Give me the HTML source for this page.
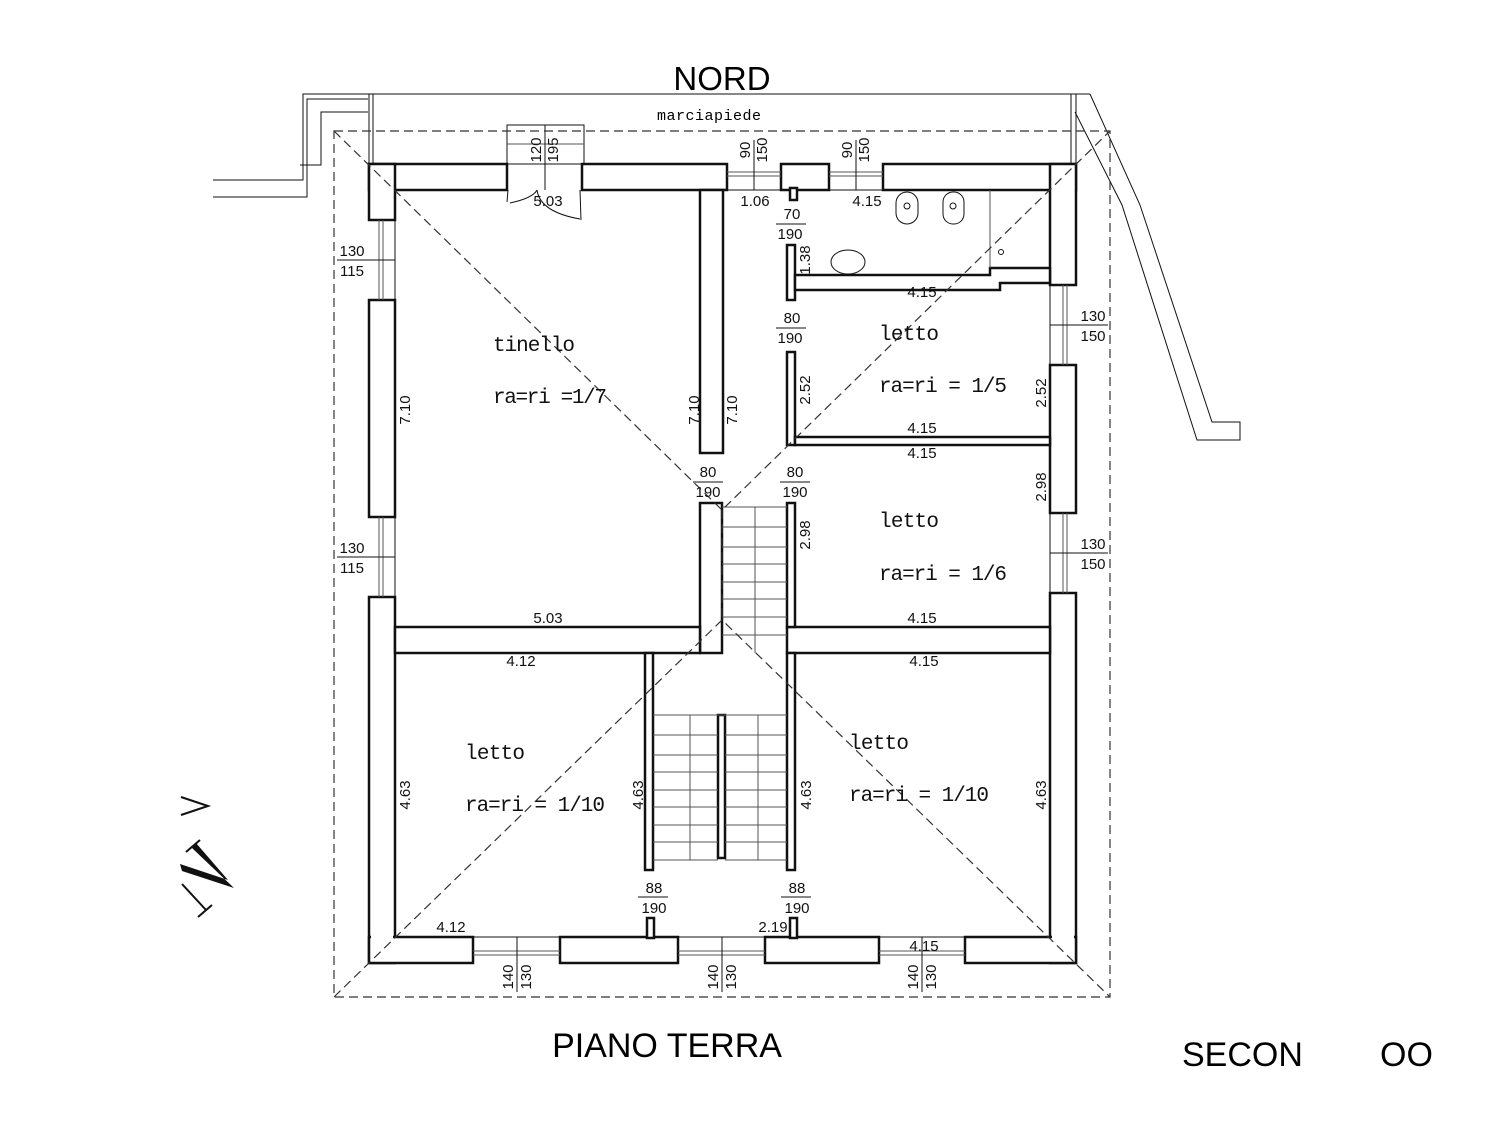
<!DOCTYPE html>
<html><head><meta charset="utf-8"><style>
html,body{margin:0;padding:0;background:#fff}
svg{display:block}
.d{font-family:"Liberation Sans",sans-serif;font-size:15px;fill:#111}
.r{font-family:"Liberation Mono",monospace;font-size:21px;fill:#111}
.w{fill:#fff;stroke:#111;stroke-width:2.5}
.t{stroke:#111;stroke-width:1;fill:none}
.g{stroke:#555;stroke-width:1;fill:none}
.dash{stroke:#333;stroke-width:1.2;fill:none;stroke-dasharray:9 5}
</style></head><body>
<svg width="1500" height="1125" viewBox="0 0 1500 1125" xmlns="http://www.w3.org/2000/svg">
<line x1="369" y1="94" x2="1090" y2="94" class="t"/>
<polyline points="213,180 303,180 303,94 369,94" class="t"/>
<polyline points="213,197 307,197 307,99 368,99" class="t"/>
<polyline points="300,165 321,165 321,112 368,112" class="t"/>
<line x1="369" y1="94" x2="369" y2="164" class="t"/>
<line x1="373" y1="94" x2="373" y2="164" class="t"/>
<line x1="1071" y1="94" x2="1071" y2="164" class="t"/>
<line x1="1076" y1="94" x2="1076" y2="164" class="t"/>
<polyline points="1090,94 1140,205 1212,422 1240,422 1240,440 1197,440 1122,205 1075,112" class="t"/>
<rect x="507" y="125" width="77" height="39" class="t"/>
<line x1="507" y1="144" x2="584" y2="144" class="g"/>
<line x1="545" y1="125" x2="545" y2="190" class="t"/>
<rect x="369" y="164" width="138" height="26" class="w"/>
<rect x="582" y="164" width="145" height="26" class="w"/>
<rect x="781" y="164" width="48" height="26" class="w"/>
<rect x="790" y="188" width="7" height="12" class="w"/>
<rect x="883" y="164" width="193" height="26" class="w"/>
<rect x="369" y="164" width="26" height="56" class="w"/>
<rect x="369" y="300" width="26" height="217" class="w"/>
<rect x="369" y="597" width="26" height="366" class="w"/>
<rect x="1050" y="164" width="26" height="121" class="w"/>
<rect x="1050" y="365" width="26" height="148" class="w"/>
<rect x="1050" y="593" width="26" height="370" class="w"/>
<rect x="369" y="937" width="104" height="26" class="w"/>
<rect x="560" y="937" width="118" height="26" class="w"/>
<rect x="765" y="937" width="114" height="26" class="w"/>
<rect x="965" y="937" width="111" height="26" class="w"/>
<rect x="371" y="166" width="22" height="30" fill="#fff"/>
<rect x="1052" y="166" width="22" height="30" fill="#fff"/>
<rect x="371" y="933" width="22" height="28" fill="#fff"/>
<rect x="1052" y="933" width="22" height="28" fill="#fff"/>
<g class="g">
<line x1="727" y1="172" x2="781" y2="172"/><line x1="727" y1="176" x2="781" y2="176"/>
<line x1="829" y1="172" x2="883" y2="172"/><line x1="829" y1="176" x2="883" y2="176"/>
<line x1="379" y1="220" x2="379" y2="300"/><line x1="383" y1="220" x2="383" y2="300"/>
<line x1="379" y1="517" x2="379" y2="597"/><line x1="383" y1="517" x2="383" y2="597"/>
<line x1="1063" y1="285" x2="1063" y2="365"/><line x1="1067" y1="285" x2="1067" y2="365"/>
<line x1="1063" y1="513" x2="1063" y2="593"/><line x1="1067" y1="513" x2="1067" y2="593"/>
<line x1="473" y1="951" x2="560" y2="951"/><line x1="473" y1="955" x2="560" y2="955"/>
<line x1="678" y1="951" x2="765" y2="951"/><line x1="678" y1="955" x2="765" y2="955"/>
<line x1="879" y1="951" x2="965" y2="951"/><line x1="879" y1="955" x2="965" y2="955"/>
</g>
<g class="t">
<line x1="727" y1="190" x2="781" y2="190"/><line x1="829" y1="190" x2="883" y2="190"/>
<line x1="395" y1="220" x2="395" y2="300"/><line x1="395" y1="517" x2="395" y2="597"/>
<line x1="1050" y1="285" x2="1050" y2="365"/><line x1="1050" y1="513" x2="1050" y2="593"/>
<line x1="473" y1="937" x2="560" y2="937"/><line x1="678" y1="937" x2="765" y2="937"/><line x1="879" y1="937" x2="965" y2="937"/>
<line x1="754" y1="140" x2="754" y2="190"/><line x1="856" y1="140" x2="856" y2="190"/>
<line x1="337" y1="260" x2="395" y2="260"/><line x1="337" y1="557" x2="395" y2="557"/>
<line x1="1050" y1="325" x2="1108" y2="325"/><line x1="1050" y1="553" x2="1108" y2="553"/>
<line x1="517" y1="937" x2="517" y2="992"/><line x1="722" y1="937" x2="722" y2="992"/><line x1="922" y1="937" x2="922" y2="992"/>
</g>
<path d="M508,190 L507,202 M537,190 Q533,198 510,203" class="t"/>
<path d="M580,190 L581,220 M537,190 Q540,212 580,219" class="t"/>
<rect x="700" y="190" width="23" height="263" class="w"/>
<rect x="700" y="503" width="22" height="150" class="w"/>
<rect x="395" y="627" width="305" height="26" class="w"/>
<rect x="787" y="627" width="263" height="26" class="w"/>
<rect x="787" y="503" width="8" height="124" class="w"/>
<rect x="787" y="245" width="8" height="55" class="w"/>
<rect x="787" y="352" width="8" height="93" class="w"/>
<path d="M795,275 L990,275 L990,268 L1050,268 L1050,283 L1000,283 L1000,290 L795,290 Z" class="w"/>
<rect x="795" y="437" width="255" height="8" class="w"/>
<rect x="645" y="653" width="8" height="217" class="w"/>
<rect x="787" y="653" width="8" height="217" class="w"/>
<rect x="647" y="918" width="7" height="20" class="w"/>
<rect x="790" y="918" width="7" height="20" class="w"/>
<rect x="718" y="715" width="7" height="143" class="w"/>
<line x1="990" y1="190" x2="990" y2="268" class="g"/>
<circle cx="1001" cy="252" r="2.5" class="t"/>
<rect x="896" y="192" width="22" height="32" rx="11" class="t"/>
<circle cx="907" cy="206" r="3" class="t"/>
<rect x="943" y="192" width="21" height="32" rx="10" class="t"/>
<circle cx="953" cy="206" r="3" class="t"/>
<ellipse cx="848" cy="262" rx="17" ry="12" class="t"/>
<g class="g">
<line x1="722" y1="507" x2="787" y2="507"/>
<line x1="755" y1="507" x2="755" y2="653"/>
<line x1="722" y1="527" x2="787" y2="527"/><line x1="722" y1="547" x2="787" y2="547"/>
<line x1="722" y1="564" x2="787" y2="564"/><line x1="722" y1="582" x2="787" y2="582"/>
<line x1="722" y1="599" x2="787" y2="599"/><line x1="722" y1="617" x2="787" y2="617"/>
<line x1="722" y1="635" x2="787" y2="635"/>
<line x1="653" y1="715" x2="787" y2="715"/>
<line x1="690" y1="715" x2="690" y2="860"/><line x1="758" y1="715" x2="758" y2="860"/>
<line x1="653" y1="735" x2="718" y2="735"/><line x1="725" y1="735" x2="787" y2="735"/>
<line x1="653" y1="755" x2="718" y2="755"/><line x1="725" y1="755" x2="787" y2="755"/>
<line x1="653" y1="772" x2="718" y2="772"/><line x1="725" y1="772" x2="787" y2="772"/>
<line x1="653" y1="790" x2="718" y2="790"/><line x1="725" y1="790" x2="787" y2="790"/>
<line x1="653" y1="807" x2="718" y2="807"/><line x1="725" y1="807" x2="787" y2="807"/>
<line x1="653" y1="825" x2="718" y2="825"/><line x1="725" y1="825" x2="787" y2="825"/>
<line x1="653" y1="842" x2="718" y2="842"/><line x1="725" y1="842" x2="787" y2="842"/>
<line x1="653" y1="860" x2="718" y2="860"/><line x1="725" y1="860" x2="787" y2="860"/>
</g>
<rect x="334" y="131" width="776" height="866" class="dash"/>
<polyline points="334,131 722,510 1110,131" class="dash"/>
<polyline points="334,997 722,620 1110,997" class="dash"/>
<line x1="722" y1="510" x2="722" y2="620" class="dash"/>
<text x="722" y="90" style="font-family:'Liberation Sans',sans-serif;font-size:33px" text-anchor="middle">NORD</text>
<text x="709" y="120" style="font-family:'Liberation Mono',monospace;font-size:15px" text-anchor="middle" textLength="104">marciapiede</text>
<text x="667" y="1057" style="font-family:'Liberation Sans',sans-serif;font-size:34px" text-anchor="middle">PIANO TERRA</text>
<text x="1182" y="1066" style="font-family:'Liberation Sans',sans-serif;font-size:34px">SECON</text>
<text x="1380" y="1066" style="font-family:'Liberation Sans',sans-serif;font-size:34px">OO</text>
<text x="493" y="351" class="r" textLength="82">tinello</text>
<text x="493" y="403" class="r" textLength="114">ra=ri =1/7</text>
<text x="879" y="340" class="r" textLength="60">letto</text>
<text x="879" y="392" class="r" textLength="128">ra=ri = 1/5</text>
<text x="879" y="527" class="r" textLength="60">letto</text>
<text x="879" y="580" class="r" textLength="128">ra=ri = 1/6</text>
<text x="465" y="759" class="r" textLength="60">letto</text>
<text x="465" y="811" class="r" textLength="140">ra=ri = 1/10</text>
<text x="849" y="749" class="r" textLength="60">letto</text>
<text x="849" y="801" class="r" textLength="140">ra=ri = 1/10</text>
<g class="d" text-anchor="middle">
<text x="548" y="206">5.03</text>
<text x="548" y="623">5.03</text>
<text x="755" y="206">1.06</text>
<text x="867" y="206">4.15</text>
<text x="922" y="297">4.15</text>
<text x="922" y="433">4.15</text>
<text x="922" y="458">4.15</text>
<text x="922" y="623">4.15</text>
<text x="521" y="666">4.12</text>
<text x="924" y="666">4.15</text>
<text x="451" y="932">4.12</text>
<text x="773" y="932">2.19</text>
<text x="924" y="951">4.15</text>
<text x="792" y="219">70</text><text x="790" y="239">190</text>
<text x="792" y="323">80</text><text x="790" y="343">190</text>
<text x="708" y="477">80</text><text x="708" y="497">190</text>
<text x="795" y="477">80</text><text x="795" y="497">190</text>
<text x="654" y="893">88</text><text x="654" y="913">190</text>
<text x="797" y="893">88</text><text x="797" y="913">190</text>
<text x="352" y="256">130</text><text x="352" y="276">115</text>
<text x="352" y="553">130</text><text x="352" y="573">115</text>
<text x="1093" y="321">130</text><text x="1093" y="341">150</text>
<text x="1093" y="549">130</text><text x="1093" y="569">150</text>
</g>
<g class="t">
<line x1="776" y1="224" x2="806" y2="224"/><line x1="776" y1="328" x2="806" y2="328"/>
<line x1="693" y1="482" x2="723" y2="482"/><line x1="780" y1="482" x2="810" y2="482"/>
<line x1="638" y1="897" x2="668" y2="897"/><line x1="781" y1="897" x2="811" y2="897"/>
</g>
<g class="d" text-anchor="middle">
<text transform="translate(410,410) rotate(-90)">7.10</text>
<text transform="translate(699,410) rotate(-90)">7.10</text>
<text transform="translate(737,410) rotate(-90)">7.10</text>
<text transform="translate(810,260) rotate(-90)">1.38</text>
<text transform="translate(810,390) rotate(-90)">2.52</text>
<text transform="translate(1046,393) rotate(-90)">2.52</text>
<text transform="translate(810,535) rotate(-90)">2.98</text>
<text transform="translate(1046,487) rotate(-90)">2.98</text>
<text transform="translate(410,795) rotate(-90)">4.63</text>
<text transform="translate(643,795) rotate(-90)">4.63</text>
<text transform="translate(811,795) rotate(-90)">4.63</text>
<text transform="translate(1046,795) rotate(-90)">4.63</text>
<text transform="translate(541,150) rotate(-90)">120</text>
<text transform="translate(558,150) rotate(-90)">195</text>
<text transform="translate(750,150) rotate(-90)">90</text>
<text transform="translate(767,150) rotate(-90)">150</text>
<text transform="translate(852,150) rotate(-90)">90</text>
<text transform="translate(869,150) rotate(-90)">150</text>
<text transform="translate(513,977) rotate(-90)">140</text>
<text transform="translate(531,977) rotate(-90)">130</text>
<text transform="translate(718,977) rotate(-90)">140</text>
<text transform="translate(736,977) rotate(-90)">130</text>
<text transform="translate(918,977) rotate(-90)">140</text>
<text transform="translate(936,977) rotate(-90)">130</text>
</g>
<polyline points="181,797 208,806 181,815" fill="none" stroke="#111" stroke-width="2"/>
<path d="M192,848 L234,888 L182,871 L180,864 L228,880 L196,843 Z" fill="#111"/>
<line x1="186" y1="852" x2="200" y2="840" stroke="#111" stroke-width="2"/>
<line x1="182" y1="884" x2="206" y2="910" stroke="#111" stroke-width="2"/>
<line x1="198" y1="917" x2="212" y2="905" stroke="#111" stroke-width="2"/>
</svg>
</body></html>
